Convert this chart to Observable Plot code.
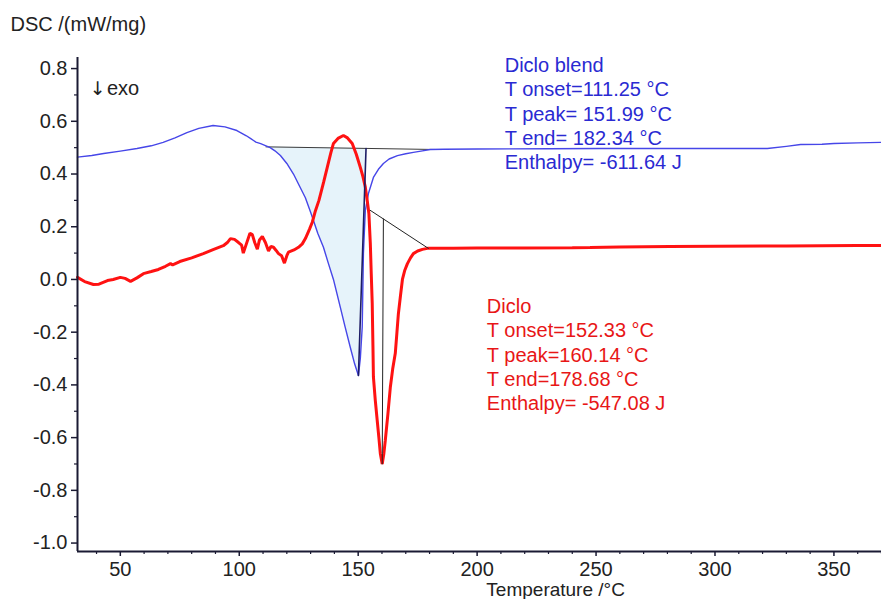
<!DOCTYPE html>
<html>
<head>
<meta charset="utf-8">
<script src="https://cdn.jsdelivr.net/npm/d3@7"></script>
<script src="https://cdn.jsdelivr.net/npm/@observablehq/plot@0.6"></script>
<style>
  html, body { margin: 0; padding: 0; background: #fff; }
  svg { display: block; }
</style>
</head>
<body>
<script>
// ---- data ----
const xDomain = [32, 370];
const yDomain = [-1.032, 0.842];
const xTicks = [50, 100, 150, 200, 250, 300, 350];
const xMinor = [40, 60, 70, 80, 90, 110, 120, 130, 140, 160, 170, 180, 190, 210, 220, 230, 240, 260, 270, 280, 290, 310, 320, 330, 340, 360, 370];
const yTicks = [-1.0, -0.8, -0.6, -0.4, -0.2, 0.0, 0.2, 0.4, 0.6, 0.8];
const yMinor = [-0.9, -0.7, -0.5, -0.3, -0.1, 0.1, 0.3, 0.5, 0.7];

// Diclo blend (blue) : temperature / DSC
const blendT = [32, 38, 43, 50, 57, 63, 68, 73, 78, 83, 89, 94, 99, 103, 105, 106, 107, 109, 111, 113, 115, 117.3, 120, 122.8, 125, 127.8, 130, 131.2, 133, 135.4, 137.5, 139.6, 142.5, 144.5, 146.7, 148.5, 150.1, 150.9, 151.7, 152.2, 153, 154.3, 156.4, 158.5, 160.6, 163, 166.5, 170, 173.2, 177, 180.3, 186, 200, 230, 252, 280, 300, 322, 330, 336, 345, 350, 360, 370];
const blendV = [0.464, 0.470, 0.478, 0.487, 0.497, 0.507, 0.520, 0.537, 0.557, 0.573, 0.584, 0.579, 0.565, 0.545, 0.533, 0.527, 0.521, 0.515, 0.508, 0.500, 0.488, 0.47, 0.44, 0.40, 0.36, 0.31, 0.255, 0.224, 0.175, 0.122, 0.06, 0.0, -0.106, -0.18, -0.258, -0.32, -0.364, -0.30, -0.18, 0.10, 0.262, 0.326, 0.387, 0.418, 0.44, 0.457, 0.47, 0.477, 0.482, 0.488, 0.493, 0.494, 0.495, 0.496, 0.497, 0.497, 0.497, 0.497, 0.505, 0.512, 0.513, 0.516, 0.518, 0.520];

// Diclo (red)
const dicloT = [32, 35, 38.7, 41, 44.6, 47, 50, 52, 54.3, 57, 59.7, 63, 66, 69, 71.1, 72, 75, 80, 84.9, 89, 93.3, 95, 96.3, 98, 99.7, 101, 101.7, 103, 104.5, 105.5, 106.5, 107.6, 108.5, 109.7, 111, 112.3, 113.3, 114.4, 115.5, 116.5, 117.8, 119, 120, 120.7, 123, 124.9, 126.5, 127.8, 129.5, 130.7, 132, 133.5, 135.5, 137, 138.5, 139.6, 141.5, 143.8, 145.5, 147.5, 149.2, 150.9, 152, 153, 153.8, 154.5, 155.1, 155.5, 155.9, 156.2, 156.4, 157.2, 158, 158.7, 159.3, 160.1, 160.8, 161.4, 162.5, 163.5, 164.5, 165.6, 166.3, 166.9, 167.8, 168.6, 169.6, 170.7, 172, 173.2, 175, 177, 179.1, 184.5, 190, 200, 220, 240, 247.5, 260, 281, 300, 330, 345, 359.7, 370];
const dicloV = [0.008, -0.008, -0.019, -0.018, -0.004, 0.000, 0.008, 0.004, -0.007, 0.006, 0.022, 0.030, 0.038, 0.050, 0.060, 0.055, 0.068, 0.082, 0.098, 0.113, 0.128, 0.14, 0.155, 0.152, 0.14, 0.13, 0.10, 0.135, 0.175, 0.17, 0.14, 0.115, 0.15, 0.163, 0.14, 0.108, 0.125, 0.122, 0.11, 0.098, 0.09, 0.062, 0.09, 0.104, 0.112, 0.122, 0.135, 0.155, 0.19, 0.217, 0.26, 0.30, 0.37, 0.425, 0.48, 0.516, 0.535, 0.546, 0.537, 0.516, 0.475, 0.425, 0.39, 0.35, 0.30, 0.25, 0.137, 0.02, -0.09, -0.25, -0.37, -0.46, -0.535, -0.60, -0.66, -0.70, -0.66, -0.61, -0.51, -0.41, -0.34, -0.28, -0.20, -0.13, -0.06, 0.0, 0.035, 0.06, 0.082, 0.098, 0.108, 0.114, 0.118, 0.118, 0.118, 0.119, 0.119, 0.120, 0.121, 0.123, 0.125, 0.126, 0.127, 0.128, 0.129, 0.129];

// analysis construction lines (onset/end baselines and peak lines)
const blendBaseT = [111.25, 182.34];
const blendBaseV = [0.503, 0.493];
const blendPeakT = [150.1, 153.3];
const blendPeakV = [-0.364, 0.497];
const dicloBaseT = [155.1, 179.5];
const dicloBaseV = [0.262, 0.118];
const dicloPeakT = [160.6, 160.1];
const dicloPeakV = [0.2295, -0.70];

// annotation texts
const titleText = ["DSC /(mW/mg)"];
const xLabel = ["Temperature /°C"];
const exoArrow = ["↓"];
const exoText = ["exo"];
const blendNotes = ["Diclo blend", "T onset=111.25 °C", "T peak= 151.99 °C", "T end= 182.34 °C", "Enthalpy= -611.64 J"];
const dicloNotes = ["Diclo", "T onset=152.33 °C", "T peak=160.14 °C", "T end=178.68 °C", "Enthalpy= -547.08 J"];

// ---- build tables ----
const zip = (T, V) => T.map((t, i) => ({T: t, v: V[i]}));
const blend = zip(blendT, blendV);
const diclo = zip(dicloT, dicloV);
const blendBase = zip(blendBaseT, blendBaseV);
const blendPeak = zip(blendPeakT, blendPeakV);
const dicloBase = zip(dicloBaseT, dicloBaseV);
const dicloPeak = zip(dicloPeakT, dicloPeakV);

// integrated area: between blend baseline and the curve, closed by the peak line
const baseAt = t => blendBaseV[0] + (blendBaseV[1] - blendBaseV[0]) * (t - blendBaseT[0]) / (blendBaseT[1] - blendBaseT[0]);
const shade = blend.filter(d => d.T >= blendBaseT[0] && d.T <= blendPeakT[0]).map(d => ({T: d.T, v: d.v, base: baseAt(d.T)}));
shade.unshift({T: blendBaseT[0], v: baseAt(blendBaseT[0]), base: baseAt(blendBaseT[0])});
shade.push({T: blendPeakT[1], v: blendPeakV[1], base: baseAt(blendPeakT[1])});

const axisColor = "#1a1a33";
const font = "'Liberation Sans', Arial, sans-serif";

const chart = Plot.plot({
  width: 881,
  height: 599,
  marginLeft: 77,
  marginRight: 0,
  marginTop: 57,
  marginBottom: 48,
  style: {fontFamily: font, fontSize: "20px", color: "#222", background: "#fff", overflow: "visible"},
  x: {domain: xDomain, label: null},
  y: {domain: yDomain, label: null},
  marks: [
    Plot.areaY(shade, {x: "T", y1: "base", y2: "v", fill: "#e6f3fa", curve: "linear"}),
    Plot.line(blendBase, {x: "T", y: "v", stroke: "#3c3c3c", strokeWidth: 1}),
    Plot.line(blend, {x: "T", y: "v", stroke: "#4646e8", strokeWidth: 1.4}),
    Plot.line(diclo, {x: "T", y: "v", stroke: "#ff1212", strokeWidth: 3, strokeLinejoin: "miter"}),
    Plot.line(dicloBase, {x: "T", y: "v", stroke: "#222", strokeWidth: 1}),
    Plot.line(dicloPeak, {x: "T", y: "v", stroke: "#222", strokeWidth: 1}),
    Plot.line(blendPeak, {x: "T", y: "v", stroke: "#1c1c66", strokeWidth: 1.6}),
    Plot.ruleX([xDomain[0]], {stroke: axisColor, strokeWidth: 2}),
    Plot.ruleY([yDomain[0]], {stroke: axisColor, strokeWidth: 2}),
    Plot.axisY({ticks: yTicks, tickSize: 6, tickPadding: 4, tickFormat: d => d.toFixed(1), label: null, stroke: axisColor, strokeWidth: 1.5, fontSize: 20, fill: "#222"}),
    Plot.axisY({ticks: yMinor, tickSize: 3, tickFormat: () => "", label: null, stroke: axisColor, strokeWidth: 1.2}),
    Plot.axisX({ticks: xTicks, tickSize: 5, tickPadding: 5, tickFormat: d => String(d), label: null, stroke: axisColor, strokeWidth: 1.5, fontSize: 20, fill: "#222"}),
    Plot.axisX({ticks: xMinor, tickSize: 3, tickFormat: () => "", label: null, stroke: axisColor, strokeWidth: 1.2}),
    Plot.text(titleText, {frameAnchor: "top-left", dx: -67, dy: -41, textAnchor: "start", lineAnchor: "top", fontSize: 20, fill: "#222"}),
    Plot.text(xLabel, {x: 233, frameAnchor: "bottom", dy: 31, lineAnchor: "top", fontSize: 19, fill: "#222"}),
    Plot.text(exoArrow, {x: 37.1, y: 0.752, textAnchor: "start", lineAnchor: "top", fontSize: 19, fontFamily: "'DejaVu Sans', sans-serif", fill: "#222"}),
    Plot.text(exoText, {x: 44.4, y: 0.752, textAnchor: "start", lineAnchor: "top", fontSize: 20, fill: "#222"}),
    Plot.text([blendNotes.join("\n")], {x: 211.6, y: 0.8535, textAnchor: "start", lineAnchor: "top", fontSize: 20, lineHeight: 1.22, fill: "#2a2ad2"}),
    Plot.text([dicloNotes.join("\n")], {x: 204.1, y: -0.0611, textAnchor: "start", lineAnchor: "top", fontSize: 20, lineHeight: 1.22, fill: "#e81616"})
  ]
});
document.body.appendChild(chart);
</script>
</body>
</html>
